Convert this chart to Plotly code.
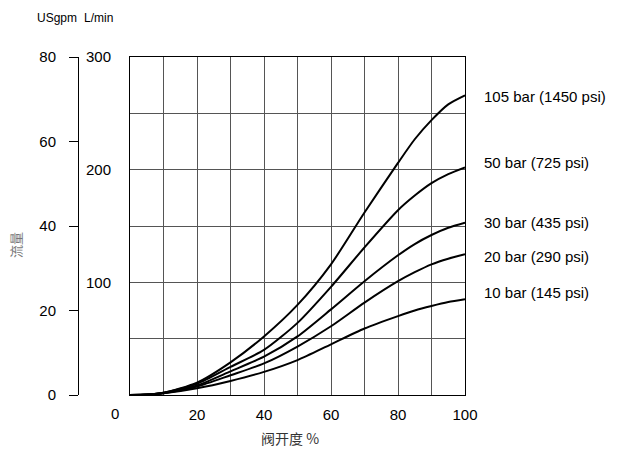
import plotly.graph_objects as go

# Valve opening (%) and flow (L/min) for each pressure drop
opening = [0, 5, 10, 20, 30, 40, 50, 60, 70, 80, 85, 90, 95, 100]
flow_105 = [0, 0.4, 2, 11, 29, 52, 80, 116, 162, 206, 227, 244, 258, 266]
flow_50 = [0, 0.4, 2, 10, 25, 40, 64, 96, 131, 164, 177, 188, 196, 202]
flow_30 = [0, 0.4, 1.8, 8.5, 21, 34, 52, 76, 101, 124, 134, 142, 148.5, 153]
flow_20 = [0, 0.3, 1.6, 7.5, 17.5, 28, 43, 61, 82, 101, 109, 116, 121, 125]
flow_10 = [0, 0.3, 1.5, 6, 12.5, 20.5, 31, 45, 59, 70, 75, 79, 82.5, 85]

series = [
    ("105 bar (1450 psi)", flow_105, -1),
    ("50 bar (725 psi)", flow_50, 5),
    ("30 bar (435 psi)", flow_30, 0),
    ("20 bar (290 psi)", flow_20, -2),
    ("10 bar (145 psi)", flow_10, 7),
]

x_ticks = [20, 40, 60, 80, 100]
lmin_ticks = [100, 200, 300]
gpm_ticks = [0, 20, 40, 60, 80]

W, H = 617, 454
x0, x1 = 130, 465
y_top, y_bot = 57, 395

FONT = "Liberation Sans, Arial, sans-serif"

fig = go.Figure()
for name, ys, _ in series:
    fig.add_trace(go.Scatter(
        x=opening, y=ys, mode="lines", name=name,
        line=dict(color="black", width=2, shape="spline", smoothing=0.7),
        showlegend=False, hoverinfo="skip",
    ))

# invisible trace so the US gpm axis is rendered
fig.add_trace(go.Scatter(x=[0, 100], y=[0, 80], yaxis="y2", mode="lines",
                         line=dict(width=0), showlegend=False, hoverinfo="skip"))

for name, ys, dy in series:
    fig.add_annotation(x=opening[-1], y=ys[-1], xref="x", yref="y",
                       text=name, showarrow=False, xanchor="left",
                       yanchor="middle", xshift=17, yshift=dy,
                       font=dict(family=FONT, size=15, color="black"))

grid = "#555555"
fig.update_layout(
    width=W, height=H,
    margin=dict(l=0, r=0, t=0, b=0, autoexpand=False),
    plot_bgcolor="white", paper_bgcolor="white",
    font=dict(family=FONT, size=15, color="black"),
    xaxis=dict(
        domain=[x0 / W, x1 / W], range=[0, 100], automargin=False,
        tickvals=x_ticks, ticks="", ticklabelstandoff=6,
        showgrid=True, gridcolor=grid, gridwidth=1,
        minor=dict(dtick=10, showgrid=True, gridcolor=grid, gridwidth=1),
        showline=True, linecolor="black", linewidth=1, mirror=True,
        zeroline=False,
    ),
    yaxis=dict(
        domain=[1 - y_bot / H, 1 - y_top / H], range=[0, 300], automargin=False,
        tickvals=lmin_ticks, ticks="", ticklabelstandoff=15,
        showgrid=True, gridcolor=grid, gridwidth=1,
        minor=dict(dtick=50, showgrid=True, gridcolor=grid, gridwidth=1),
        showline=True, linecolor="black", linewidth=1, mirror=True,
        zeroline=False,
    ),
    yaxis2=dict(
        overlaying="y", anchor="free", position=78 / W, side="left",
        range=[0, 80], automargin=False,
        tickvals=gpm_ticks, ticks="outside", ticklen=9,
        tickcolor="black", ticklabelstandoff=10,
        showline=True, linecolor="black", linewidth=1,
        showgrid=False, zeroline=False,
    ),
)

# "0" of the opening axis sits a little left of the corner
fig.add_annotation(x=0, y=0, xref="x", yref="y", text="0", showarrow=False,
                   xanchor="center", yanchor="top", xshift=-15, yshift=-8,
                   font=dict(family=FONT, size=15))

fig.add_annotation(x=35 / W, y=1 - 18 / H, xref="paper", yref="paper",
                   text="USgpm", showarrow=False, xanchor="left", yanchor="middle",
                   font=dict(family=FONT, size=12))
fig.add_annotation(x=82 / W, y=1 - 18 / H, xref="paper", yref="paper",
                   text="L/min", showarrow=False, xanchor="left", yanchor="middle",
                   font=dict(family=FONT, size=12))
fig.add_annotation(x=290 / W, y=1 - 438 / H, xref="paper", yref="paper",
                   text="阀开度 %", showarrow=False, xanchor="center", yanchor="middle",
                   font=dict(family="Noto Sans CJK SC, " + FONT, size=14, color="#333333"))
fig.add_annotation(x=15 / W, y=1 - 245 / H, xref="paper", yref="paper",
                   text="流量", showarrow=False, textangle=-90,
                   xanchor="center", yanchor="middle",
                   font=dict(family="Noto Sans CJK SC", size=13, color="#777777"))

fig.write_html("out.html")
